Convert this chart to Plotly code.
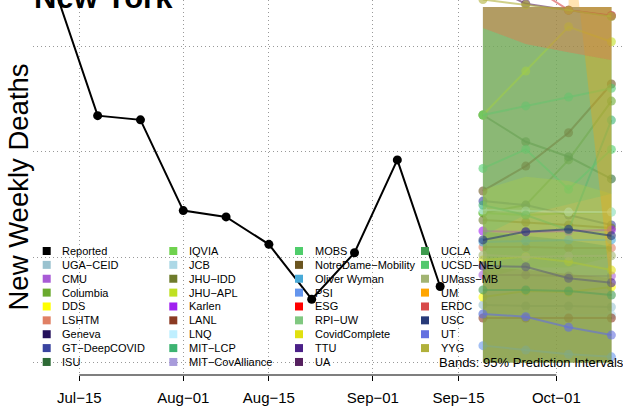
import plotly.graph_objects as go

# reported weekly deaths (New York)
obs_dates = ["2020-07-11", "2020-07-18", "2020-07-25", "2020-08-01", "2020-08-08",
             "2020-08-15", "2020-08-22", "2020-08-29", "2020-09-05", "2020-09-12"]
reported = [177, 117, 115, 72, 69, 56, 30, 52, 96, 36]

fc_dates = ["2020-09-19", "2020-09-26", "2020-10-03", "2020-10-10"]

models = ["UGA-CEID", "CMU", "Columbia", "DDS", "LSHTM", "Geneva", "GT-DeepCOVID", "ISU",
          "IQVIA", "JCB", "JHU-IDD", "JHU-APL", "Karlen", "LANL", "LNQ", "MIT-LCP",
          "MIT-CovAlliance", "MOBS", "NotreDame-Mobility", "Oliver Wyman", "PSI", "ESG",
          "RPI-UW", "CovidComplete", "TTU", "UA", "UCLA", "UCSD-NEU", "UMass-MB", "UM",
          "ERDC", "USC", "UT", "YYG"]
colors = ["#9AC2CF", "#A85BD6", "#6AAA2E", "#FFFF00", "#E08064", "#24105C", "#3A44A0", "#2D6A35",
          "#6FD24E", "#ADD8E6", "#6E7B2B", "#BFE022", "#A020F0", "#8B3A22", "#BFEFFF", "#3CB371",
          "#A89BDB", "#4FCD6B", "#6B5520", "#48AAD8", "#6495ED", "#FF0000",
          "#80C880", "#E0E010", "#4B2088", "#55205F", "#3E9A4E", "#52C86E", "#A2B472", "#FFA500",
          "#D84A4A", "#283A78", "#6470E0", "#B0B03A"]

# point forecasts
median = {
    "UGA-CEID": [27.3, 26.8, 26.8, 26.3],
    "CMU": [41.5, 41.5, 41.0, 41.0],
    "Columbia": [70.9, 74.6, 96.0, 123.9],
    "DDS": [31.0, 33.9, 33.4, 35.8],
    "LSHTM": [54.7, 54.7, 54.3, 54.3],
    "GT-DeepCOVID": [76.5, 74.6, 69.9, 65.2],
    "ISU": [117.3, 104.6, 97.5, 87.0],
    "IQVIA": [70.9, 69.9, 70.9, 71.3],
    "JCB": [23.0, 23.0, 22.5, 22.5],
    "JHU-IDD": [67.5, 66.5, 65.2, 63.7],
    "JHU-APL": [117.3, 138.1, 159.1, 152.0],
    "Karlen": [62.3, 61.8, 62.3, 62.8],
    "LANL": [21.1, 21.1, 21.1, 21.1],
    "LNQ": [72.3, 71.8, 71.3, 71.3],
    "MIT-LCP": [74.6, 69.9, 62.8, 114.9],
    "MOBS": [92.0, 101.0, 82.1, 101.0],
    "NotreDame-Mobility": [81.3, 93.1, 108.9, 132.0],
    "Oliver Wyman": [57.1, 57.6, 58.1, 58.1],
    "PSI": [8.0, 5.9, 3.9, 2.7],
    "CovidComplete": [48.6, 50.1, 47.8, 43.8],
    "TTU": [45.7, 45.4, 39.9, 37.8],
    "UA": [180, 170, 167, 164.2],
    "UCLA": [34.4, 34.4, 33.9, 32.0],
    "UCSD-NEU": [117.3, 121.6, 125.8, 130.0],
    "UMass-MB": [50.9, 50.0, 50.5, 50.6],
    "UM": [205, 220, 240, 175],
    "ERDC": [195, 180, 167, 164.5],
    "USC": [58.1, 62.0, 63.1, 60.1],
    "UT": [23.0, 21.7, 16.7, 13.0],
    "YYG": [172, 169.5, 167, 164],
}

# 95% prediction intervals (upper bounds capped at 168.5)
lower = {
    "ISU": [0, 0, 0, 0],
    "IQVIA": [40, 45, 45, 50],
    "JHU-IDD": [0, 0, 0, 0],
    "LANL": [0, 0, 0, 0],
    "CovidComplete": [0, 0, 0, 0],
    "UCLA": [0, 0, 0, 0],
    "UCSD-NEU": [60, 70, 75, 80],
    "UMass-MB": [0, 0, 0, 0],
    "UM": [None, None, 215, 32],
    "ERDC": [158.5, 151, 147, 143.4],
    "YYG": [158.5, 151, 147, 143.4],
}
upper = {
    "ISU": [168.5, 168.5, 168.5, 168.5],
    "IQVIA": [158.5, 151, 147, 143.4],
    "JHU-IDD": [168.5, 168.5, 168.5, 168.5],
    "LANL": [45, 44, 42, 40],
    "CovidComplete": [82, 88, 86, 80],
    "UCLA": [62, 60, 58, 55],
    "UCSD-NEU": [158.5, 151, 147, 143.4],
    "UMass-MB": [168.5, 168.5, 168.5, 168.5],
    "UM": [None, None, 168.5, 168.5],
    "ERDC": [168.5, 168.5, 168.5, 168.5],
    "YYG": [168.5, 168.5, 168.5, 168.5],
}

tick_vals = ["2020-07-15", "2020-08-01", "2020-08-15", "2020-09-01", "2020-09-15", "2020-10-01"]
tick_text = ["Jul\u221215", "Aug\u221201", "Aug\u221215", "Sep\u221201", "Sep\u221215", "Oct\u221201"]


def rgba(hex_color, a):
    h = hex_color.lstrip("#")
    return "rgba(%d,%d,%d,%s)" % (int(h[0:2], 16), int(h[2:4], 16), int(h[4:6], 16), a)


fig = go.Figure()

# each model: band first, then its point forecast (later bands cover earlier lines)
for name, col in zip(models, colors):
    if name in lower:
        idx = [i for i, v in enumerate(lower[name]) if v is not None]
        xs = [fc_dates[i] for i in idx]
        fig.add_trace(go.Scatter(
            x=xs + xs[::-1],
            y=[upper[name][i] for i in idx] + [lower[name][i] for i in idx][::-1],
            fill="toself", fillcolor=rgba(col, 0.3), line=dict(width=0),
            mode="lines", hoverinfo="skip", showlegend=False))
    if name in median:
        fig.add_trace(go.Scatter(
            x=fc_dates, y=median[name], mode="lines+markers",
            line=dict(color=rgba(col, 0.6), width=2),
            marker=dict(color=rgba(col, 0.6), size=9),
            name=name, showlegend=False))

fig.add_trace(go.Scatter(
    x=obs_dates, y=reported, mode="lines+markers",
    line=dict(color="black", width=2), marker=dict(color="black", size=9),
    name="Reported", showlegend=False))

# hand-made legend, R style (filled squares, 4 columns, no box)
legend_names = ["Reported"] + models
legend_cols = ["#000000"] + colors
col_px = [46.7, 173.3, 299, 425]
shapes = []
annotations = []
for k, (nm, c) in enumerate(zip(legend_names, legend_cols)):
    ci, ri = k // 9, k % 9
    cx = col_px[ci]
    cy = 251 + ri * 13.87
    shapes.append(dict(type="rect", xref="paper", yref="paper",
                       x0=(cx - 4 - 33) / 590, x1=(cx + 4 - 33) / 590,
                       y0=(375 - cy - 4) / 375, y1=(375 - cy + 4) / 375,
                       fillcolor=c, line=dict(width=0)))
    annotations.append(dict(text=nm.replace("-", "\u2212"), xref="paper", yref="paper",
                            x=(cx + 13.5 - 33) / 590, y=(375 - cy) / 375,
                            xanchor="left", yanchor="middle", showarrow=False,
                            font=dict(size=11, color="black")))

annotations.append(dict(text="Bands: 95% Prediction Intervals", xref="paper", yref="paper",
                        x=(437 - 33) / 590, y=(375 - 362) / 375, xanchor="left",
                        yanchor="middle", showarrow=False, font=dict(size=13, color="black")))
annotations.append(dict(text="<b>New York</b>", xref="paper", yref="paper",
                        x=-0.002, y=(375 - 17) / 375, xanchor="left", yanchor="bottom",
                        showarrow=False, font=dict(size=31, color="black")))
annotations.append(dict(text="New Weekly Deaths", xref="paper", yref="paper",
                        x=(18 - 33) / 590, y=0.5, xanchor="center", yanchor="middle",
                        textangle=-90, showarrow=False, font=dict(size=27.5, color="black")))

# x axis line only between first and last tick, as in R
shapes.append(dict(type="line", xref="x", yref="paper", x0=tick_vals[0], x1=tick_vals[-1],
                   y0=0, y1=0, line=dict(color="black", width=1.2)))

fig.update_layout(
    width=623, height=414,
    margin=dict(l=33, r=0, t=0, b=39),
    paper_bgcolor="white", plot_bgcolor="white",
    font=dict(family="Liberation Sans, Arial, sans-serif", color="black"),
    showlegend=False,
    shapes=shapes, annotations=annotations,
    xaxis=dict(type="date", range=["2020-07-07 10:19", "2020-10-11 21:36"],
               tickvals=tick_vals, ticktext=tick_text, ticks="outside", ticklen=5,
               tickwidth=1.2, tickcolor="black", tickfont=dict(size=15),
               ticklabelstandoff=4,
               showline=False, zeroline=False,
               showgrid=True, gridcolor="#999999", griddash="1px,3px", gridwidth=1),
    yaxis=dict(range=[-5.92, 171.8], tickvals=[0, 50, 100, 150], showticklabels=False,
               ticks="", showline=False, zeroline=False,
               showgrid=True, gridcolor="#999999", griddash="1px,3px", gridwidth=1),
)

fig.write_html("out.html", config={"displayModeBar": False},
               post_script="document.body.style.margin='0';")
